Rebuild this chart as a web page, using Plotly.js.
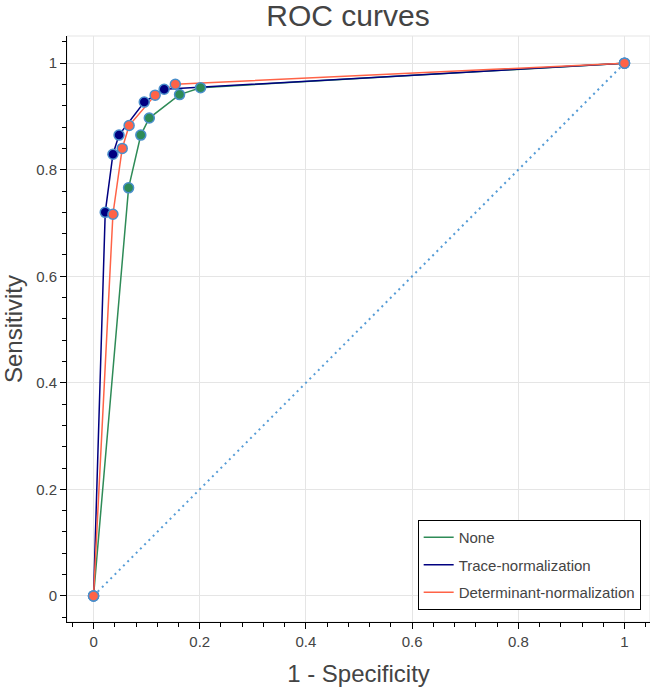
<!DOCTYPE html>
<html>
<head>
<meta charset="utf-8">
<script src="https://cdn.plot.ly/plotly-3.0.1.min.js"></script>
<style>
  html, body { margin: 0; padding: 0; background: #fff; }
  #chart { width: 650px; height: 687px; }
</style>
</head>
<body>
<div id="chart"></div>
<script>
// ---- Data ----
const seriesNames = ["None", "Trace-normalization", "Determinant-normalization"];
const seriesColors = ["#2e8b57", "#000080", "#ff6347"];

const noneFPR  = [0, 0.066, 0.089, 0.105, 0.162, 0.2015, 1];
const noneTPR  = [0, 0.766, 0.865, 0.897, 0.941, 0.954, 1];

const traceFPR = [0, 0.022, 0.0365, 0.048, 0.0955, 0.133, 1];
const traceTPR = [0, 0.720, 0.829, 0.865, 0.927, 0.951, 1];

const detFPR   = [0, 0.0365, 0.054, 0.067, 0.116, 0.154, 1];
const detTPR   = [0, 0.7165, 0.840, 0.883, 0.940, 0.9605, 1];

const chanceX = [0, 1];
const chanceY = [0, 1];

const xTickVals = [0, 0.2, 0.4, 0.6, 0.8, 1];
const xTickText = ["0", "0.2", "0.4", "0.6", "0.8", "1"];
const yTickVals = [0, 0.2, 0.4, 0.6, 0.8, 1];
const yTickText = ["0", "0.2", "0.4", "0.6", "0.8", "1"];

// ---- Build traces ----
const xs = [noneFPR, traceFPR, detFPR];
const ys = [noneTPR, traceTPR, detTPR];
const FONT = "Liberation Sans, Arial, Helvetica, sans-serif";

const traces = [];
// diagonal reference line
traces.push({
  x: chanceX, y: chanceY, type: "scatter", mode: "lines",
  line: { color: "rgb(86,156,214)", width: 2, dash: "2px,4px" },
  showlegend: false, hoverinfo: "skip"
});
// lines first
for (let i = 0; i < 3; i++) {
  traces.push({
    x: xs[i], y: ys[i], type: "scatter", mode: "lines",
    name: seriesNames[i], legendgroup: "g" + i,
    line: { color: seriesColors[i], width: 1.5 }
  });
}
// then markers
for (let i = 0; i < 3; i++) {
  traces.push({
    x: xs[i], y: ys[i], type: "scatter", mode: "markers",
    name: seriesNames[i], legendgroup: "g" + i, showlegend: false,
    marker: { color: seriesColors[i], size: 10, line: { color: "#4a8fcb", width: 1.5 } }
  });
}

const axisCommon = {
  showgrid: true, gridcolor: "#e5e5e5", gridwidth: 1,
  zeroline: false,
  showline: true, linecolor: "#000", linewidth: 1,
  ticks: "outside", ticklen: 6, tickcolor: "#000", tickwidth: 1,
  tickfont: { family: FONT, size: 15, color: "#444" },
  minor: { dtick: 0.04, ticks: "outside", ticklen: 4, tickcolor: "#000", showgrid: false },
  automargin: false
};

const layout = {
  width: 650, height: 687,
  margin: { l: 67, r: 0, t: 36, b: 65 },
  paper_bgcolor: "#fff", plot_bgcolor: "#fff",
  font: { family: FONT, color: "#444" },
  title: {
    text: "ROC curves",
    font: { family: FONT, size: 30, color: "#444" },
    xref: "paper", x: 0.482, xanchor: "center",
    yref: "container", y: 0.977, yanchor: "middle"
  },
  xaxis: Object.assign({}, axisCommon, {
    range: [-0.05, 1.048],
    tickvals: xTickVals, ticktext: xTickText,
    title: { text: "1 - Specificity", font: { family: FONT, size: 24, color: "#444" } }
  }),
  yaxis: Object.assign({}, axisCommon, {
    range: [-0.049, 1.051],
    tickvals: yTickVals, ticktext: yTickText,
    title: { text: "Sensitivity", font: { family: FONT, size: 24, color: "#444" } }
  }),
  legend: {
    x: 0.984, y: 0.0205, xanchor: "right", yanchor: "bottom",
    bgcolor: "#fff", bordercolor: "#000", borderwidth: 1,
    font: { family: FONT, size: 15, color: "#444" },
    itemwidth: 30,
    traceorder: "grouped", tracegroupgap: 5
  },
  shapes: [{
    type: "rect", xref: "paper", yref: "paper", x0: 0, x1: 1, y0: 0, y1: 1,
    line: { color: "#e5e5e5", width: 1 }, layer: "below"
  }],
  showlegend: true
};

Plotly.newPlot("chart", traces, layout, { staticPlot: true, displayModeBar: false });
</script>
</body>
</html>
